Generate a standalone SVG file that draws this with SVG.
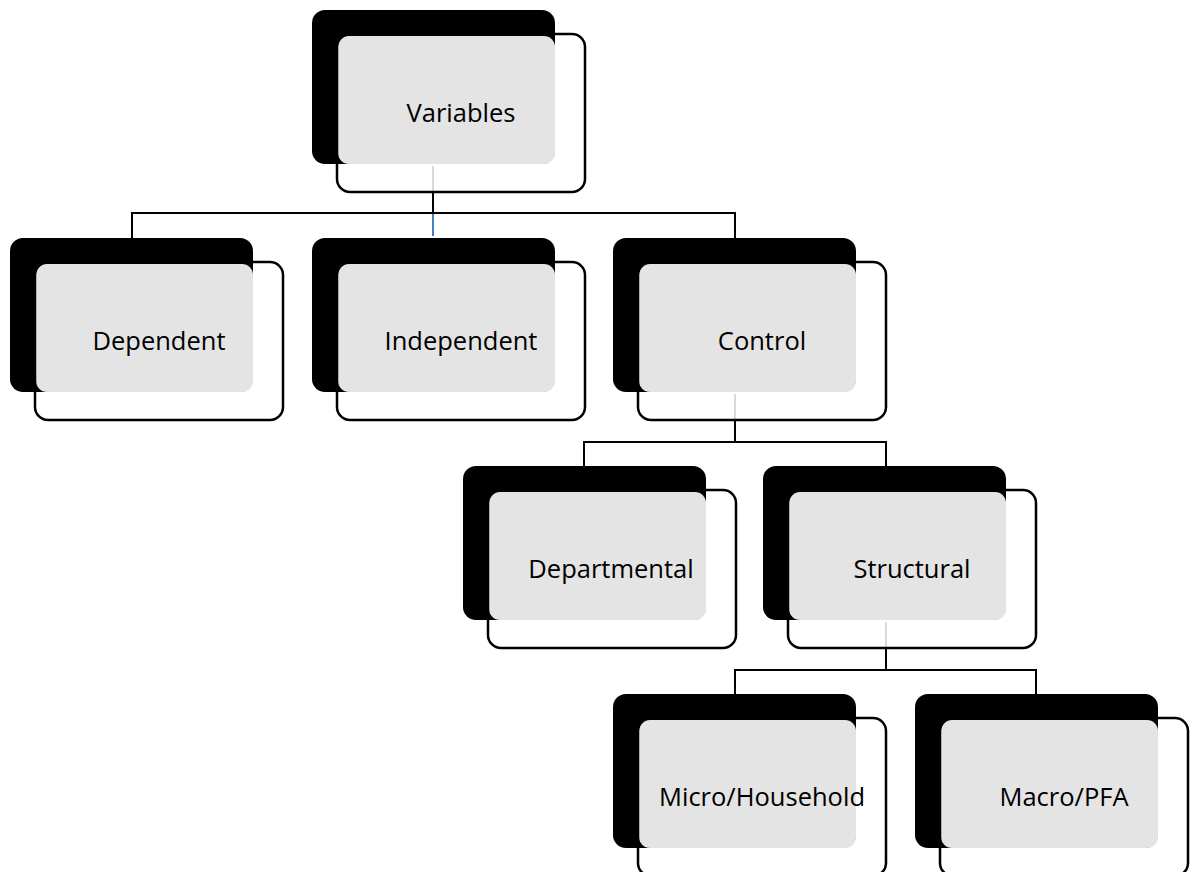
<svg xmlns="http://www.w3.org/2000/svg" width="1193" height="872" viewBox="0 0 1193 872">
<style>
.back{fill:#000}
.front{fill:none;stroke:#000;stroke-width:2.5}
.shade{fill:#e4e4e4}
.lbl{font-family:"Open Sans","Liberation Sans",sans-serif;font-size:25.5px;fill:#000;text-anchor:middle}
.conn{fill:none;stroke:#000;stroke-width:2}
.ghost{stroke:#d9d9d9;stroke-width:2}
.blue{stroke:#4a7ebb;stroke-width:2}
</style>
<defs>
<g id="card">
<rect class="back" x="0" y="0" width="243" height="154" rx="13"/>
<rect class="shade" x="26" y="26" width="217" height="128" rx="11"/>
<rect class="front" x="25" y="24" width="248" height="158" rx="13"/>
</g>
</defs>
<rect width="1193" height="872" fill="#fff"/>
<g id="connectors">
<line class="ghost" x1="433" y1="166" x2="433" y2="192"/>
<path class="conn" d="M433 192V213M132 238V213H735V238"/>
<line class="blue" x1="433" y1="214" x2="433" y2="236"/>
<line class="ghost" x1="735" y1="394" x2="735" y2="420"/>
<path class="conn" d="M735 420V442M584 466V442H886V466"/>
<line class="ghost" x1="886" y1="622" x2="886" y2="648"/>
<path class="conn" d="M886 648V670M735 694V670H1036V694"/>
</g>
<g id="variables"><use href="#card" x="312" y="10"/><text class="lbl" x="461" y="122">Variables</text></g>
<g id="dependent"><use href="#card" x="10" y="238"/><text class="lbl" x="159" y="350">Dependent</text></g>
<g id="independent"><use href="#card" x="312" y="238"/><text class="lbl" x="461" y="350">Independent</text></g>
<g id="control"><use href="#card" x="613" y="238"/><text class="lbl" x="762" y="350">Control</text></g>
<g id="departmental"><use href="#card" x="463" y="466"/><text class="lbl" x="611" y="578">Departmental</text></g>
<g id="structural"><use href="#card" x="763" y="466"/><text class="lbl" x="912" y="578">Structural</text></g>
<g id="micro"><use href="#card" x="613" y="694"/><text class="lbl" x="762" y="806">Micro/Household</text></g>
<g id="macro"><use href="#card" x="915" y="694"/><text class="lbl" x="1064" y="806">Macro/PFA</text></g>
</svg>
